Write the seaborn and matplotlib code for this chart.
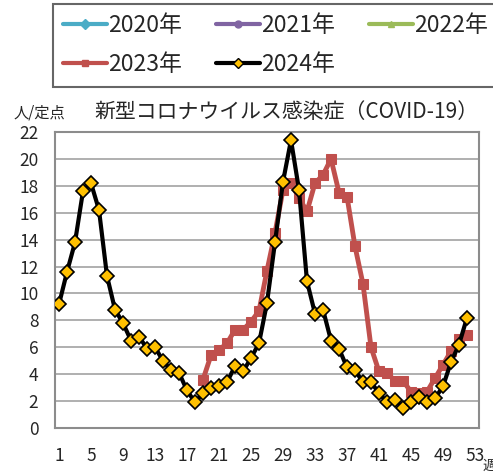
import numpy as np
import pandas as pd
import matplotlib
matplotlib.use('Agg')
import matplotlib.pyplot as plt
from matplotlib.lines import Line2D
import seaborn as sns

# legend labels (2020-2022 have no plotted data in the chart)
years = ['2020年', '2021年', '2022年', '2023年', '2024年']
year_colors = ['#4BACC6', '#8064A2', '#9BBB59', '#C0504D', '#000000']
year_markers = ['D', 'o', '^', 's', 'D']

weeks_2023 = list(range(19, 53))
values_2023 = [3.6, 5.4, 5.8, 6.3, 7.3, 7.3, 7.9, 8.7, 11.7, 14.5, 17.7, 18.2,
               17.1, 16.1, 18.2, 18.8, 20.0, 17.5, 17.2, 13.5, 10.7, 6.0, 4.2,
               4.1, 3.5, 3.5, 2.7, 2.6, 2.7, 3.7, 4.7, 5.7, 6.6, 6.9]

weeks_2024 = list(range(1, 53))
values_2024 = [9.2, 11.6, 13.8, 17.6, 18.2, 16.2, 11.3, 8.8, 7.8, 6.5, 6.8, 5.9,
               6.0, 5.0, 4.3, 4.1, 2.8, 1.9, 2.6, 3.0, 3.1, 3.4, 4.6, 4.2, 5.2,
               6.3, 9.3, 13.8, 18.3, 21.4, 17.7, 10.9, 8.5, 8.8, 6.5, 5.9, 4.5,
               4.3, 3.4, 3.4, 2.6, 1.9, 2.1, 1.5, 1.9, 2.3, 1.9, 2.2, 3.1, 4.9,
               6.2, 8.2]

xtick_labels = [1, 5, 9, 13, 17, 21, 25, 29, 33, 37, 41, 45, 49, 53]
ytick_values = list(range(0, 23, 2))

sns.set_style('white')
plt.rcParams['font.family'] = ['Noto Sans CJK JP', 'DejaVu Sans']

df23 = pd.DataFrame({'week': weeks_2023, 'value': values_2023})
df24 = pd.DataFrame({'week': weeks_2024, 'value': values_2024})

fig = plt.figure(figsize=(4.93, 4.73), dpi=100)
ax = fig.add_axes([55 / 493, 1 - 428 / 473, 424 / 493, 296 / 473])

for y in ytick_values[1:]:
    ax.axhline(y, color='#9A9A9A', lw=1.1, zorder=0)

sns.lineplot(data=df23, x='week', y='value', ax=ax, color='#C0504D', lw=3.5,
             marker='s', markersize=7.5, markeredgecolor='#C0504D', zorder=2)
sns.lineplot(data=df24, x='week', y='value', ax=ax, color='black', lw=3,
             marker='D', markersize=7.5, markerfacecolor='#FFC000',
             markeredgecolor='black', markeredgewidth=1.2, zorder=3)

ax.set_xlim(0.5, 53.5)
ax.set_ylim(0, 22)
ax.set_xticks(xtick_labels)
ax.set_xticklabels([str(v) for v in xtick_labels], fontsize=12.5)
ax.set_xticks(np.arange(0.5, 54, 1), minor=True)
ax.set_yticks(ytick_values)
ax.set_yticklabels([str(v) for v in ytick_values], fontsize=12.5)
ax.tick_params(axis='x', which='major', length=0, pad=14)
ax.tick_params(axis='x', which='minor', direction='in', length=4, width=1,
               color='#888888')
ax.tick_params(axis='y', length=0, pad=12)
ax.set_xlabel('')
ax.set_ylabel('')
for s in ax.spines.values():
    s.set_color('#8C8C8C')
    s.set_linewidth(1.5)
ax.grid(False)

fig.text(286 / 493, 1 - 112 / 473, '新型コロナウイルス感染症（COVID-19）',
         ha='center', va='center', fontsize=15)
fig.text(39 / 493, 1 - 113 / 473, '人/定点', ha='center', va='center',
         fontsize=11)
fig.text(489 / 493, 1 - 466 / 473, '週', ha='center', va='center', fontsize=10)

handles = {}
for label, c, m in zip(years, year_colors, year_markers):
    if label == '2024年':
        h = Line2D([], [], color=c, lw=3, marker=m, markersize=5,
                   markerfacecolor='#FFC000', markeredgecolor='black')
    else:
        h = Line2D([], [], color=c, lw=3, marker=m, markersize=5)
    handles[label] = h

# column-major fill -> row-major look
order = ['2020年', '2023年', '2021年', '2024年', '2022年']
leg = fig.legend([handles[k] for k in order], order, loc='upper left', ncol=3,
                 fontsize=16.5, bbox_to_anchor=(53 / 493, 1 - 4 / 473),
                 handlelength=1.9, handletextpad=0.05, labelspacing=0.7,
                 borderaxespad=0, borderpad=0.45, frameon=True, fancybox=False,
                 columnspacing=1.5)
leg.get_frame().set_edgecolor('#404040')
leg.get_frame().set_linewidth(1.5)

fig.savefig('out.png', dpi=100)
